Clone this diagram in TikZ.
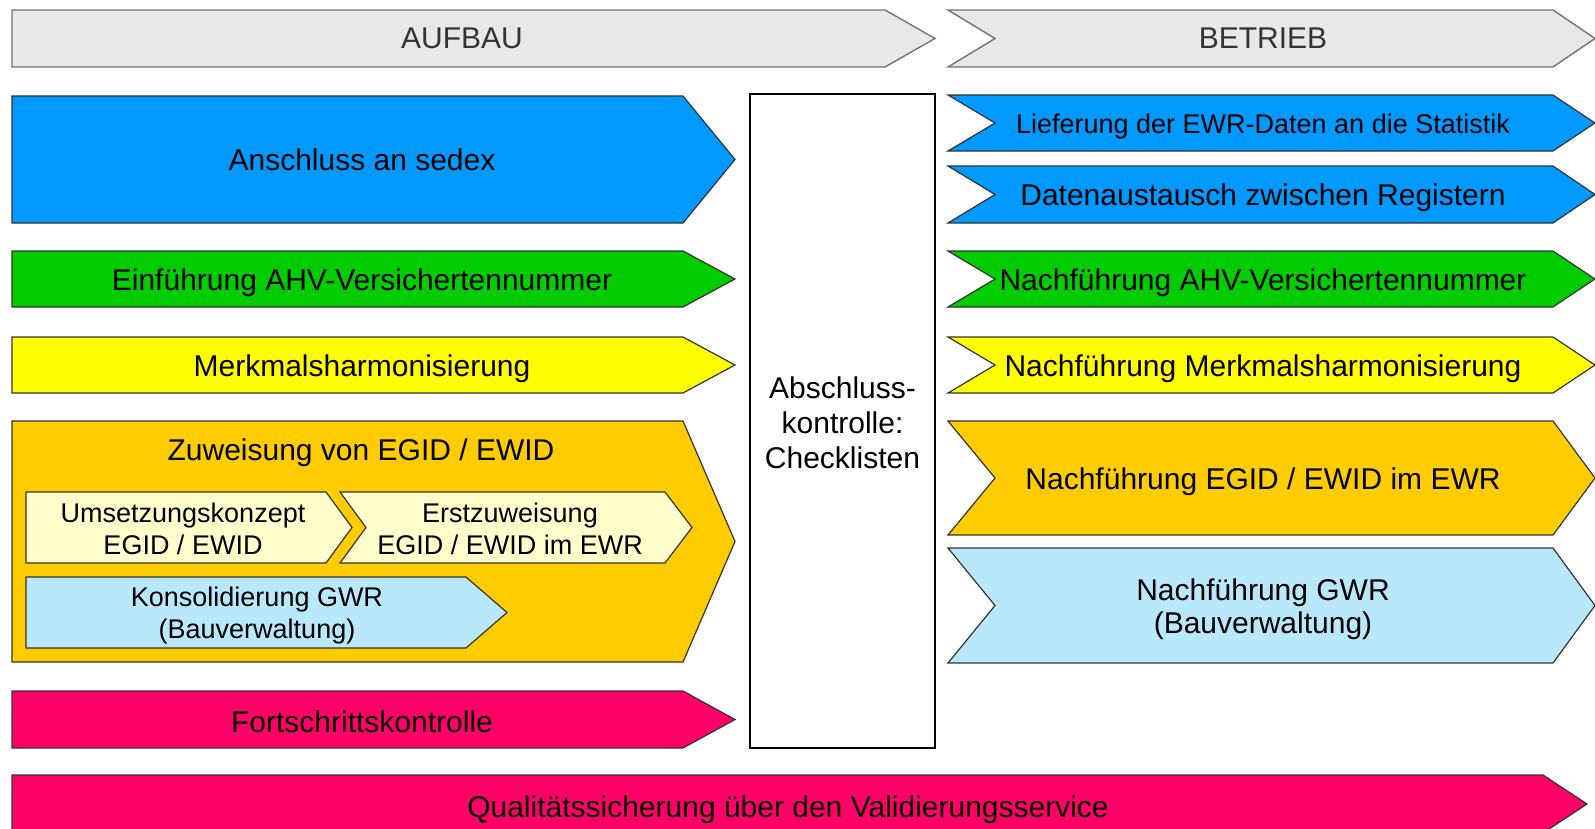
\documentclass[tikz,border=0pt]{standalone}
\usepackage{fontspec}
\setmainfont{Liberation Sans}
\usetikzlibrary{positioning,calc}

\definecolor{headgray}{HTML}{E8E8E8}
\definecolor{sedexblue}{HTML}{0099FF}
\definecolor{ahvgreen}{HTML}{00CC00}
\definecolor{merkyellow}{HTML}{FFFF00}
\definecolor{egidorange}{HTML}{FFCC00}
\definecolor{paleyellow}{HTML}{FFFFCC}
\definecolor{gwrblue}{HTML}{BAE8FB}
\definecolor{qspink}{HTML}{FF0066}

\begin{document}
\begin{tikzpicture}[
        x=0.5pt, y=-0.5pt,
        bar/.style = {draw=black!80, line width=0.6pt, line join=miter},
        head/.style = {draw=black!55, line width=0.7pt, fill=headgray},
        txt/.style = {font=\fontsize{15}{16.5}\selectfont, align=center, inner sep=0pt},
        smalltxt/.style = {font=\fontsize{13.5}{16}\selectfont, align=center, inner sep=0pt},
        checkbox/.style = {rectangle, draw=black, line width=0.8pt, fill=white, minimum width=92.5pt, minimum height=327pt, align=center, font=\fontsize{15}{17.5}\selectfont}
    ]
        \clip (0,0) rectangle (1595,829);

        % Header
        \draw [head] (12,10) -- (885,10) -- (935,38.5) -- (885,67) -- (12,67) -- cycle;
        \node [txt, text=black!80] (aufbau) at (462,38.5) {AUFBAU};
        \draw [head] (948,10) -- (1553,10) -- (1595,38.5) -- (1553,67) -- (948,67) -- (995,38.5) -- cycle;
        \node [txt, text=black!80] (betrieb) at (1263,38.5) {BETRIEB};

        % Aufbau
        \draw [bar, fill=sedexblue] (12,96) -- (683,96) -- (735,159.5) -- (683,223) -- (12,223) -- cycle;
        \node [txt] (sedex) at (362,160) {Anschluss an sedex};
        \draw [bar, fill=ahvgreen] (12,251) -- (683,251) -- (735,279) -- (683,307) -- (12,307) -- cycle;
        \node [txt] (ahv) at (362,282.5) {Einführung AHV-Versichertennummer};
        \draw [bar, fill=merkyellow] (12,337) -- (683,337) -- (735,365) -- (683,393) -- (12,393) -- cycle;
        \node [txt] (merkmal) at (362,368.5) {Merkmalsharmonisierung};
        \draw [bar, fill=egidorange] (12,421) -- (683,421) -- (735,541.5) -- (683,662) -- (12,662) -- cycle;
        \node [txt] (egid) at (361,453) {Zuweisung von EGID / EWID};
        \draw [bar, fill=paleyellow] (26,492) -- (326,492) -- (352,527.5) -- (326,563) -- (26,563) -- cycle;
        \node [smalltxt] (konzept) at (183,528.5) {Umsetzungskonzept\\EGID / EWID};
        \draw [bar, fill=paleyellow] (340,492) -- (665,492) -- (692,527.5) -- (665,563) -- (340,563) -- (366,527.5) -- cycle;
        \node [smalltxt] (erst) at (510,528.5) {Erstzuweisung\\EGID / EWID im EWR};
        \draw [bar, fill=gwrblue] (26,577) -- (466,577) -- (507,612.5) -- (466,648) -- (26,648) -- cycle;
        \node [smalltxt] (konsol) at (257,616) {Konsolidierung GWR\\(Bauverwaltung)};
        \draw [bar, fill=qspink] (12,691) -- (683,691) -- (735,719.5) -- (683,748) -- (12,748) -- cycle;
        \node [txt] (fortschritt) at (362,721.5) {Fortschrittskontrolle};

        % Abschlusskontrolle
        \draw [line width=0.8pt] (750,94) rectangle (935,748);
        \node [checkbox, draw=none, fill=none] (check) at (842.5,423) {Abschluss-\\kontrolle:\\Checklisten};

        % Betrieb
        \draw [bar, fill=sedexblue] (948,95) -- (1553,95) -- (1595,123) -- (1553,151) -- (948,151) -- (995,123) -- cycle;
        \node [smalltxt] (liefer) at (1263,127) {Lieferung der EWR-Daten an die Statistik};
        \draw [bar, fill=sedexblue] (948,166) -- (1553,166) -- (1595,194.5) -- (1553,223) -- (948,223) -- (995,194.5) -- cycle;
        \node [txt] (austausch) at (1263,197.5) {Datenaustausch zwischen Registern};
        \draw [bar, fill=ahvgreen] (948,251) -- (1553,251) -- (1595,279) -- (1553,307) -- (948,307) -- (995,279) -- cycle;
        \node [txt] (nahv) at (1263,282.5) {Nachführung AHV-Versichertennummer};
        \draw [bar, fill=merkyellow] (948,337) -- (1553,337) -- (1595,365) -- (1553,393) -- (948,393) -- (995,365) -- cycle;
        \node [txt] (nmerkmal) at (1263,368.5) {Nachführung Merkmalsharmonisierung};
        \draw [bar, fill=egidorange] (948,421) -- (1553,421) -- (1595,478) -- (1553,535) -- (948,535) -- (995,478) -- cycle;
        \node [txt] (negid) at (1263,482) {Nachführung EGID / EWID im EWR};
        \draw [bar, fill=gwrblue] (948,548) -- (1553,548) -- (1595,605.5) -- (1553,663) -- (948,663) -- (995,605.5) -- cycle;
        \node [txt] (ngwr) at (1263,609) {Nachführung GWR\\(Bauverwaltung)};

        % Qualitaetssicherung
        \draw [bar, fill=qspink] (12,775) -- (1543,775) -- (1587,804) -- (1543,833) -- (12,833) -- cycle;
        \node [txt] (quali) at (788,810) {Qualitätssicherung über den Validierungsservice};

\end{tikzpicture}
\end{document}
